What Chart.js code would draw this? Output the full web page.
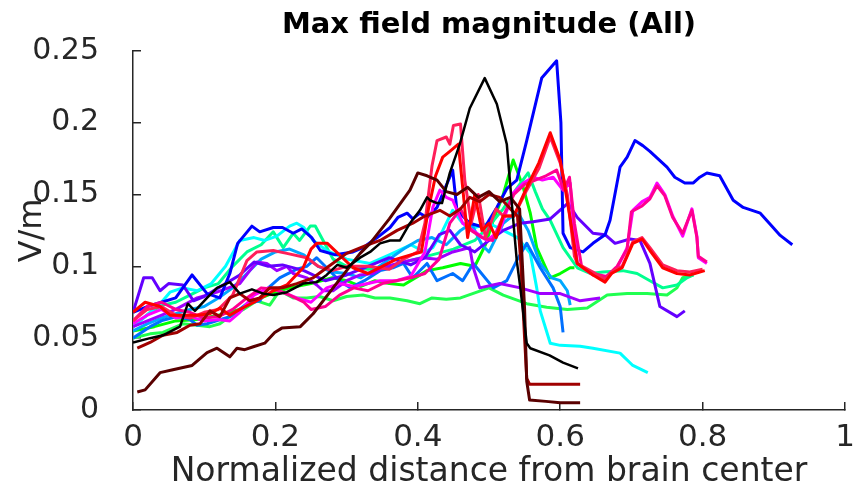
<!DOCTYPE html>
<html>
<head>
<meta charset="utf-8">
<script src="https://cdn.jsdelivr.net/npm/chart.js@4.4.0/dist/chart.umd.min.js"></script>
<style>
  html, body { margin: 0; padding: 0; background: #fff; }
  #chart { display: block; }
</style>
</head>
<body>
<canvas id="chart" width="858" height="494"></canvas>
<script>
// tick values
const xTicks = [0, 0.2, 0.4, 0.6, 0.8, 1];
const yTicks = [0, 0.05, 0.1, 0.15, 0.2, 0.25];

// each run is [normalized distance, max field V/m]
const blackRun = [[0,0.047],[0.024,0.05],[0.042,0.052],[0.066,0.058],[0.077,0.074],[0.087,0.069],[0.104,0.078],[0.118,0.085],[0.136,0.089],[0.15,0.081],[0.167,0.084],[0.183,0.081],[0.197,0.08],[0.216,0.082],[0.239,0.088],[0.258,0.089],[0.272,0.094],[0.287,0.101],[0.3,0.099],[0.319,0.106],[0.333,0.11],[0.347,0.116],[0.361,0.118],[0.375,0.118],[0.389,0.13],[0.403,0.139],[0.413,0.148],[0.417,0.146],[0.427,0.144],[0.434,0.144],[0.445,0.165],[0.459,0.185],[0.473,0.21],[0.494,0.231],[0.511,0.213],[0.525,0.185],[0.532,0.144],[0.539,0.104],[0.544,0.085],[0.553,0.0465],[0.558,0.043],[0.585,0.038],[0.604,0.033],[0.625,0.029]];
const darkRedRun = [[0.006,0.043],[0.024,0.047],[0.042,0.052],[0.062,0.054],[0.08,0.059],[0.094,0.06],[0.108,0.069],[0.122,0.065],[0.136,0.078],[0.15,0.081],[0.164,0.076],[0.178,0.078],[0.192,0.085],[0.21,0.085],[0.23,0.088],[0.253,0.092],[0.275,0.1],[0.3,0.109],[0.325,0.114],[0.347,0.118],[0.371,0.125],[0.393,0.13],[0.41,0.135],[0.431,0.139],[0.445,0.135],[0.46,0.14],[0.473,0.148],[0.487,0.145],[0.5,0.15],[0.515,0.148],[0.53,0.14],[0.54,0.135],[0.545,0.1],[0.55,0.05],[0.553,0.022],[0.557,0.018],[0.6,0.018],[0.628,0.018]];
const deepRedRun = [[0.006,0.0125],[0.017,0.014],[0.038,0.026],[0.056,0.028],[0.083,0.031],[0.104,0.04],[0.118,0.043],[0.136,0.037],[0.146,0.043],[0.157,0.042],[0.169,0.044],[0.185,0.0465],[0.199,0.054],[0.209,0.057],[0.235,0.058],[0.253,0.067],[0.267,0.076],[0.281,0.085],[0.3,0.097],[0.319,0.109],[0.333,0.116],[0.36,0.133],[0.389,0.153],[0.4,0.165],[0.413,0.163],[0.427,0.16],[0.44,0.152],[0.455,0.15],[0.47,0.155],[0.485,0.148],[0.5,0.152],[0.515,0.145],[0.53,0.148],[0.543,0.14],[0.55,0.07],[0.553,0.02],[0.557,0.007],[0.58,0.006],[0.6,0.005],[0.628,0.005]];
const redRun = [[0,0.068],[0.017,0.075],[0.038,0.072],[0.052,0.066],[0.07,0.066],[0.09,0.066],[0.108,0.067],[0.122,0.071],[0.136,0.066],[0.15,0.07],[0.17,0.075],[0.197,0.083],[0.216,0.087],[0.239,0.099],[0.25,0.112],[0.258,0.116],[0.273,0.116],[0.29,0.108],[0.309,0.099],[0.33,0.095],[0.35,0.1],[0.37,0.105],[0.39,0.108],[0.405,0.11],[0.415,0.14],[0.425,0.163],[0.435,0.176],[0.445,0.18],[0.457,0.185],[0.465,0.145],[0.47,0.12],[0.48,0.15],[0.49,0.125],[0.5,0.13],[0.51,0.12],[0.52,0.135],[0.535,0.135],[0.553,0.155],[0.57,0.172],[0.586,0.193],[0.6,0.174],[0.605,0.16],[0.615,0.13],[0.624,0.102],[0.646,0.094],[0.663,0.089],[0.672,0.095],[0.687,0.099],[0.702,0.116],[0.715,0.119],[0.726,0.111],[0.744,0.099],[0.764,0.095],[0.782,0.094],[0.803,0.097]];
const crimsonRun = [[0,0.062],[0.02,0.07],[0.04,0.072],[0.06,0.066],[0.08,0.064],[0.1,0.068],[0.12,0.07],[0.14,0.08],[0.16,0.104],[0.174,0.11],[0.197,0.111],[0.216,0.109],[0.244,0.106],[0.26,0.1],[0.28,0.097],[0.3,0.1],[0.33,0.1],[0.36,0.098],[0.38,0.105],[0.4,0.11],[0.41,0.13],[0.42,0.17],[0.427,0.1875],[0.44,0.19],[0.445,0.185],[0.45,0.198],[0.46,0.199],[0.466,0.16],[0.475,0.13],[0.485,0.15],[0.495,0.12],[0.51,0.14],[0.52,0.135],[0.535,0.135],[0.553,0.153],[0.57,0.168],[0.586,0.19],[0.6,0.172],[0.61,0.15],[0.62,0.107],[0.624,0.102],[0.646,0.096],[0.663,0.091],[0.675,0.097],[0.687,0.1],[0.702,0.117],[0.715,0.12],[0.726,0.113],[0.744,0.101],[0.764,0.097],[0.782,0.096],[0.8,0.098]];
const pinkRun = [[0,0.062],[0.02,0.072],[0.04,0.075],[0.06,0.07],[0.08,0.068],[0.1,0.064],[0.12,0.065],[0.14,0.07],[0.16,0.078],[0.18,0.085],[0.2,0.084],[0.22,0.08],[0.24,0.075],[0.25,0.07],[0.27,0.072],[0.29,0.08],[0.31,0.085],[0.33,0.083],[0.35,0.088],[0.37,0.09],[0.39,0.092],[0.41,0.095],[0.43,0.105],[0.445,0.13],[0.46,0.14],[0.475,0.125],[0.49,0.12],[0.505,0.118],[0.52,0.135],[0.535,0.15],[0.55,0.157],[0.565,0.16],[0.58,0.163],[0.595,0.167],[0.605,0.153],[0.613,0.162],[0.62,0.13],[0.63,0.1],[0.645,0.095],[0.665,0.093],[0.68,0.1],[0.694,0.112],[0.7,0.138],[0.715,0.142],[0.726,0.147],[0.736,0.156],[0.747,0.149],[0.758,0.134],[0.772,0.123],[0.785,0.139],[0.792,0.12],[0.794,0.107],[0.806,0.103]];
const magentaRun = [[0,0.06],[0.02,0.066],[0.04,0.07],[0.06,0.064],[0.08,0.065],[0.1,0.062],[0.12,0.063],[0.136,0.062],[0.15,0.068],[0.17,0.08],[0.19,0.085],[0.21,0.082],[0.23,0.078],[0.25,0.075],[0.272,0.085],[0.29,0.088],[0.31,0.086],[0.33,0.088],[0.347,0.09],[0.37,0.09],[0.39,0.093],[0.41,0.11],[0.421,0.141],[0.431,0.153],[0.44,0.148],[0.449,0.146],[0.463,0.13],[0.483,0.123],[0.497,0.118],[0.515,0.125],[0.534,0.151],[0.548,0.158],[0.562,0.162],[0.575,0.16],[0.59,0.162],[0.604,0.153],[0.614,0.158],[0.618,0.132],[0.624,0.102],[0.646,0.094],[0.666,0.092],[0.68,0.099],[0.694,0.113],[0.702,0.139],[0.715,0.145],[0.726,0.148],[0.736,0.158],[0.747,0.15],[0.758,0.135],[0.772,0.121],[0.785,0.14],[0.792,0.121],[0.794,0.106],[0.806,0.102]];
const purpleRun = [[0,0.058],[0.03,0.064],[0.06,0.07],[0.09,0.078],[0.118,0.082],[0.15,0.088],[0.164,0.097],[0.174,0.103],[0.188,0.102],[0.202,0.097],[0.216,0.1],[0.225,0.095],[0.244,0.092],[0.258,0.087],[0.267,0.083],[0.281,0.083],[0.3,0.09],[0.319,0.094],[0.337,0.095],[0.351,0.099],[0.371,0.102],[0.389,0.104],[0.407,0.106],[0.427,0.105],[0.449,0.11],[0.473,0.113],[0.478,0.099],[0.487,0.085],[0.515,0.088],[0.544,0.085],[0.572,0.081],[0.6,0.081],[0.628,0.076],[0.656,0.078]];
const violetRun = [[0,0.068],[0.015,0.092],[0.027,0.092],[0.038,0.083],[0.05,0.088],[0.07,0.087],[0.085,0.076],[0.1,0.079],[0.12,0.085],[0.15,0.094],[0.17,0.103],[0.19,0.1],[0.21,0.101],[0.24,0.097],[0.27,0.09],[0.3,0.094],[0.33,0.1],[0.36,0.106],[0.39,0.101],[0.41,0.106],[0.43,0.122],[0.445,0.125],[0.46,0.115],[0.48,0.11],[0.5,0.118],[0.52,0.125],[0.544,0.13],[0.562,0.131],[0.586,0.133],[0.611,0.144],[0.624,0.134],[0.646,0.123],[0.663,0.122],[0.677,0.116],[0.698,0.119],[0.712,0.118],[0.726,0.102],[0.74,0.072],[0.764,0.065],[0.775,0.069]];
const blueRun = [[0,0.068],[0.02,0.072],[0.04,0.075],[0.06,0.078],[0.083,0.094],[0.104,0.081],[0.122,0.078],[0.136,0.095],[0.147,0.116],[0.167,0.128],[0.178,0.124],[0.197,0.127],[0.21,0.127],[0.225,0.123],[0.237,0.126],[0.251,0.12],[0.263,0.111],[0.284,0.108],[0.309,0.11],[0.323,0.113],[0.343,0.12],[0.361,0.127],[0.372,0.134],[0.385,0.137],[0.393,0.133],[0.403,0.137],[0.413,0.134],[0.427,0.141],[0.449,0.167],[0.455,0.139],[0.473,0.13],[0.494,0.127],[0.511,0.141],[0.525,0.154],[0.539,0.16],[0.553,0.1875],[0.574,0.231],[0.595,0.243],[0.601,0.2],[0.604,0.123],[0.614,0.113],[0.632,0.11],[0.646,0.116],[0.663,0.122],[0.67,0.132],[0.684,0.169],[0.694,0.176],[0.705,0.1875],[0.716,0.184],[0.726,0.18],[0.75,0.169],[0.761,0.162],[0.775,0.158],[0.787,0.158],[0.796,0.162],[0.806,0.165],[0.824,0.163],[0.843,0.146],[0.857,0.141],[0.881,0.137],[0.899,0.127],[0.909,0.1215],[0.926,0.115]];
const azureRun = [[0,0.05],[0.024,0.058],[0.042,0.0625],[0.062,0.065],[0.08,0.063],[0.09,0.059],[0.104,0.06],[0.136,0.065],[0.16,0.074],[0.178,0.076],[0.19,0.085],[0.206,0.092],[0.23,0.098],[0.244,0.1],[0.258,0.106],[0.272,0.099],[0.29,0.09],[0.305,0.085],[0.325,0.09],[0.347,0.097],[0.365,0.099],[0.38,0.102],[0.393,0.092],[0.413,0.102],[0.427,0.09],[0.449,0.095],[0.463,0.09],[0.478,0.102],[0.506,0.085],[0.525,0.09],[0.539,0.104],[0.553,0.116],[0.572,0.099],[0.59,0.085],[0.6,0.072],[0.604,0.054]];
const skyRun = [[0,0.055],[0.02,0.06],[0.04,0.064],[0.06,0.067],[0.08,0.07],[0.1,0.072],[0.12,0.078],[0.14,0.085],[0.16,0.095],[0.18,0.105],[0.2,0.11],[0.22,0.112],[0.24,0.108],[0.26,0.1],[0.28,0.096],[0.3,0.095],[0.32,0.092],[0.34,0.098],[0.36,0.105],[0.38,0.112],[0.4,0.118],[0.42,0.12],[0.44,0.115],[0.46,0.125],[0.475,0.13],[0.49,0.115],[0.5,0.11],[0.52,0.13],[0.54,0.138],[0.555,0.125],[0.572,0.102],[0.588,0.092],[0.6,0.09],[0.61,0.083],[0.614,0.073]];
const cyanRun = [[0,0.058],[0.02,0.066],[0.04,0.075],[0.052,0.082],[0.07,0.085],[0.09,0.083],[0.11,0.088],[0.13,0.1],[0.15,0.118],[0.17,0.12],[0.185,0.118],[0.202,0.121],[0.22,0.128],[0.23,0.13],[0.24,0.127],[0.253,0.118],[0.272,0.111],[0.3,0.105],[0.333,0.102],[0.36,0.108],[0.39,0.115],[0.41,0.11],[0.421,0.113],[0.435,0.125],[0.449,0.139],[0.463,0.13],[0.48,0.127],[0.5,0.13],[0.52,0.125],[0.54,0.12],[0.558,0.109],[0.567,0.085],[0.572,0.069],[0.586,0.0465],[0.6,0.045],[0.628,0.0444],[0.646,0.043],[0.684,0.0396],[0.702,0.031],[0.723,0.026]];
const springRun = [[0,0.058],[0.024,0.068],[0.042,0.073],[0.06,0.075],[0.08,0.08],[0.1,0.085],[0.12,0.088],[0.14,0.1],[0.16,0.11],[0.18,0.115],[0.197,0.124],[0.211,0.113],[0.225,0.123],[0.234,0.118],[0.249,0.128],[0.256,0.128],[0.267,0.118],[0.281,0.105],[0.3,0.1],[0.33,0.098],[0.36,0.1],[0.39,0.104],[0.42,0.108],[0.45,0.112],[0.48,0.118],[0.5,0.128],[0.52,0.14],[0.54,0.155],[0.555,0.165],[0.565,0.152],[0.575,0.14],[0.586,0.132],[0.604,0.113],[0.624,0.099],[0.642,0.095],[0.66,0.096],[0.688,0.097],[0.708,0.095],[0.726,0.09],[0.744,0.085],[0.764,0.087],[0.778,0.092],[0.787,0.094]];
const greenRun = [[0,0.055],[0.03,0.058],[0.06,0.062],[0.09,0.063],[0.12,0.066],[0.15,0.07],[0.18,0.078],[0.2,0.082],[0.22,0.085],[0.25,0.088],[0.28,0.092],[0.3,0.09],[0.32,0.086],[0.34,0.09],[0.36,0.088],[0.38,0.087],[0.4,0.093],[0.413,0.097],[0.435,0.099],[0.46,0.102],[0.48,0.1],[0.495,0.115],[0.506,0.132],[0.52,0.15],[0.534,0.174],[0.548,0.155],[0.558,0.137],[0.567,0.113],[0.586,0.092],[0.6,0.095],[0.614,0.099],[0.62,0.099]];
const limeRun = [[0,0.05],[0.024,0.053],[0.042,0.054],[0.07,0.06],[0.09,0.059],[0.108,0.058],[0.122,0.06],[0.136,0.065],[0.155,0.07],[0.174,0.076],[0.192,0.073],[0.206,0.083],[0.225,0.078],[0.244,0.078],[0.262,0.079],[0.281,0.076],[0.3,0.079],[0.323,0.08],[0.34,0.078],[0.361,0.078],[0.385,0.076],[0.403,0.074],[0.42,0.078],[0.44,0.077],[0.46,0.078],[0.483,0.082],[0.5,0.085],[0.52,0.08],[0.553,0.074],[0.581,0.0715],[0.61,0.07],[0.638,0.071],[0.666,0.08],[0.694,0.081],[0.722,0.081],[0.75,0.08],[0.764,0.085],[0.772,0.092],[0.787,0.094]];

// first in the list is drawn on top
const runs = [
  { data: blackRun, color: '#000000', width: 2.5 },
  { data: deepRedRun, color: '#5a0000', width: 3 },
  { data: darkRedRun, color: '#a00000', width: 3 },
  { data: redRun, color: '#ff0000', width: 3 },
  { data: crimsonRun, color: '#ff1f5a', width: 3 },
  { data: pinkRun, color: '#ff0090', width: 3 },
  { data: magentaRun, color: '#ff00ff', width: 3 },
  { data: blueRun, color: '#0000ff', width: 3 },
  { data: violetRun, color: '#6400ff', width: 3 },
  { data: purpleRun, color: '#a000ff', width: 3 },
  { data: azureRun, color: '#0070ff', width: 3 },
  { data: skyRun, color: '#00a8ff', width: 3 },
  { data: cyanRun, color: '#00ffff', width: 3 },
  { data: springRun, color: '#00ff90', width: 3 },
  { data: greenRun, color: '#00ff00', width: 3 },
  { data: limeRun, color: '#20ff50', width: 3 },
];

const axisColor = '#262626';
const fmt = v => String(Number(v.toFixed(2)));

new Chart(document.getElementById('chart'), {
  type: 'line',
  data: {
    datasets: runs.map(r => ({
      data: r.data.map(p => ({ x: p[0], y: p[1] })),
      borderColor: r.color,
      borderWidth: r.width,
      borderJoinStyle: 'round',
      pointRadius: 0,
      tension: 0,
      fill: false,
    })),
  },
  options: {
    responsive: false,
    animation: false,
    devicePixelRatio: 1,
    layout: { padding: { left: 0, right: 13, top: 0, bottom: 0 } },
    plugins: {
      legend: { display: false },
      tooltip: { enabled: false },
      title: {
        display: true,
        fullSize: false,
        text: 'Max field magnitude (All)',
        color: '#000',
        font: { family: 'DejaVu Sans', size: 29, weight: 'bold' },
        padding: { top: 8, bottom: 8 },
      },
    },
    scales: {
      x: {
        type: 'linear',
        min: 0,
        max: 1,
        afterBuildTicks: s => { s.ticks = xTicks.map(v => ({ value: v })); },
        afterFit: s => { s.height = 84; s.paddingLeft = 0; s.paddingRight = 0; },
        border: { color: axisColor, width: 1.5 },
        grid: { drawOnChartArea: false, drawTicks: true, tickLength: -8, color: axisColor, lineWidth: 1.5 },
        ticks: { color: axisColor, font: { family: 'DejaVu Sans', size: 31 }, padding: 17, maxRotation: 0, callback: v => fmt(v) },
        title: { display: true, text: 'Normalized distance from brain center', color: axisColor, font: { family: 'DejaVu Sans', size: 33 }, padding: { top: 0, bottom: 2 } },
      },
      y: {
        type: 'linear',
        min: 0,
        max: 0.25,
        afterBuildTicks: s => { s.ticks = yTicks.map(v => ({ value: v })); },
        afterFit: s => { s.width = 133; s.paddingTop = 0; s.paddingBottom = 0; },
        border: { color: axisColor, width: 1.5 },
        grid: { drawOnChartArea: false, drawTicks: true, tickLength: -8, color: axisColor, lineWidth: 1.5 },
        ticks: { color: axisColor, font: { family: 'DejaVu Sans', size: 30 }, padding: 42, callback: v => fmt(v) },
        title: { display: true, text: 'V/m', color: axisColor, font: { family: 'DejaVu Sans', size: 32 }, padding: { top: 13, bottom: 0 } },
      },
    },
  },
});
</script>
</body>
</html>
